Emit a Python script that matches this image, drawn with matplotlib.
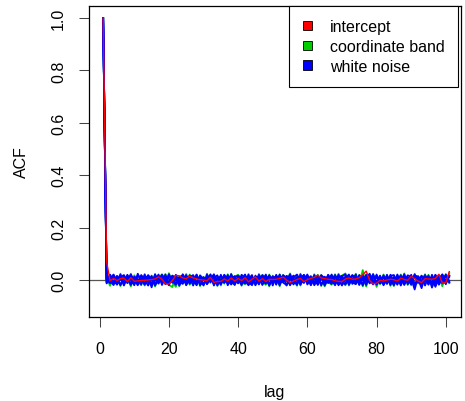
import matplotlib
matplotlib.use("Agg")
import matplotlib.pyplot as plt
from matplotlib.patches import Patch

plt.rcParams['font.family'] = ['Liberation Sans', 'DejaVu Sans']

lags = list(range(1, 102))

intercept = [1.0, 0.07,
    -0.003, 0.006, -0.002, 0.005, 0.007, -0.006, 0.009, -0.005, -0.003, -0.002,
    -0.001, 0.000, 0.002, 0.004, 0.012, 0.003, -0.015, -0.015, -0.002, 0.018,
    0.016, 0.008, 0.005, 0.015, 0.008, 0.004, 0.001, 0.000, -0.003, 0.010,
    -0.009, -0.006, -0.005, 0.004, -0.003, 0.008, -0.004, 0.006, -0.002, 0.009,
    -0.007, 0.003, 0.012, -0.004, 0.005, -0.006, 0.003, 0.002, 0.003, 0.006,
    0.011, 0.000, -0.010, -0.004, 0.002, 0.006, -0.006, 0.001, 0.006, 0.010,
    0.019, 0.008, 0.005, 0.003, 0.002, -0.003, -0.005, -0.006, 0.004, 0.008,
    0.003, 0.004, 0.009, 0.020, 0.034, -0.002, -0.015, -0.012, -0.001, -0.004,
    0.000, 0.003, 0.001, -0.004, 0.007, 0.002, -0.001, 0.014, 0.005, -0.004,
    -0.010, 0.005, 0.004, 0.003, 0.006, 0.022, -0.012, -0.010, 0.032]

noise_1 = [1.0,
    0.004, -0.012, 0.018, -0.006, 0.021, -0.015, 0.009, -0.019, 0.013, 0.002,
    -0.017, 0.020, -0.008, 0.015, -0.021, 0.006, 0.017, -0.011, 0.022, -0.004,
    -0.018, 0.011, -0.009, 0.019, -0.014, 0.003, 0.016, -0.020, 0.008, -0.002,
    0.021, -0.013, 0.010, -0.017, 0.014, -0.005, 0.019, -0.010, 0.005, -0.019,
    0.017, -0.007, 0.012, -0.016, 0.020, -0.001, -0.014, 0.018, -0.009, 0.007,
    -0.020, 0.015, -0.003, 0.022, -0.012, 0.009, -0.018, 0.013, 0.001, -0.015,
    0.019, -0.008, 0.016, -0.021, 0.004, 0.014, -0.011, 0.020, -0.006, -0.017,
    0.012, -0.002, 0.021, -0.014, 0.008, -0.019, 0.017, -0.005, 0.011, -0.013,
    0.018, -0.010, 0.003, -0.020, 0.015, -0.007, 0.022, -0.016, 0.006, -0.036,
    0.013, -0.004, 0.019, -0.012, 0.010, -0.018, 0.016, -0.001, 0.020, -0.009]

noise_2 = [1.0,
    -0.006, 0.017, -0.014, 0.008, -0.020, 0.013, -0.003, 0.021, -0.010, 0.016,
    0.005, -0.018, 0.011, -0.028, 0.019, -0.007, 0.002, 0.020, -0.015, 0.009,
    0.014, -0.021, 0.006, -0.012, 0.018, -0.004, -0.016, 0.012, -0.019, 0.021,
    -0.008, 0.015, -0.020, 0.003, -0.011, 0.019, -0.014, 0.010, 0.017, -0.006,
    -0.013, 0.020, -0.017, 0.007, -0.003, 0.016, 0.009, -0.021, 0.014, -0.010,
    0.018, -0.005, 0.011, -0.016, 0.002, -0.019, 0.021, -0.008, 0.013, 0.006,
    -0.012, 0.017, -0.020, 0.010, -0.004, -0.015, 0.019, -0.009, 0.014, 0.022,
    -0.018, 0.005, -0.011, 0.016, -0.021, 0.012, -0.003, 0.020, -0.014, 0.008,
    -0.007, 0.015, -0.019, 0.011, -0.002, 0.018, -0.013, 0.004, -0.017, 0.021,
    -0.010, 0.014, -0.006, 0.017, -0.029, 0.009, -0.015, 0.019, -0.004, 0.012]

noise_3 = [1.0,
    0.010, -0.003, -0.019, 0.016, 0.002, -0.009, 0.020, -0.016, 0.005, -0.013,
    0.019, 0.000, -0.021, 0.010, 0.004, -0.014, 0.021, -0.006, -0.012, 0.017,
    0.007, -0.017, 0.022, -0.001, -0.010, 0.014, -0.020, 0.018, 0.003, -0.015,
    0.011, 0.006, -0.018, 0.020, -0.008, 0.013, -0.003, -0.019, 0.016, 0.009,
    -0.011, 0.004, 0.019, -0.020, 0.012, -0.007, 0.021, -0.013, -0.002, 0.017,
    -0.008, 0.010, -0.021, 0.015, 0.005, -0.012, 0.008, 0.019, -0.017, 0.003,
    0.014, -0.019, 0.007, 0.012, -0.008, 0.021, -0.004, -0.016, 0.010, 0.002,
    -0.013, 0.018, 0.009, -0.019, 0.013, 0.004, -0.010, 0.022, -0.018, 0.006,
    0.012, -0.015, 0.020, -0.005, 0.008, -0.021, 0.016, 0.001, -0.011, 0.014,
    0.007, -0.020, 0.011, 0.003, -0.014, 0.019, -0.007, 0.009, -0.016, 0.015]

noise_4 = [1.0,
    -0.010, 0.008, 0.013, -0.018, 0.011, 0.019, -0.005, 0.003, -0.020, 0.024,
    -0.009, 0.006, 0.016, -0.013, -0.002, 0.021, -0.019, 0.012, 0.005, -0.010,
    0.020, -0.006, -0.015, 0.013, 0.009, -0.021, 0.017, -0.003, 0.011, -0.016,
    0.004, 0.022, -0.012, -0.007, 0.018, -0.020, 0.006, 0.015, -0.010, 0.001,
    0.021, -0.016, -0.005, 0.013, 0.010, -0.019, 0.003, 0.017, -0.021, 0.020,
    -0.013, -0.001, 0.016, 0.008, -0.017, 0.012, -0.006, 0.003, 0.021, -0.020,
    0.005, 0.011, -0.014, -0.003, 0.018, -0.011, 0.013, 0.002, -0.021, 0.016,
    0.006, -0.009, -0.016, 0.019, -0.002, 0.010, 0.024, -0.012, -0.006, 0.017,
    -0.020, 0.003, 0.009, -0.014, 0.021, -0.011, -0.003, 0.018, 0.012, -0.019,
    0.004, -0.031, 0.015, 0.007, -0.012, 0.020, -0.017, 0.006, 0.013, -0.003]

noise_5 = [1.0,
    0.001, 0.020, -0.008, -0.015, 0.014, -0.021, 0.017, 0.006, -0.011, -0.004,
    0.012, -0.015, 0.019, 0.003, -0.018, 0.013, -0.010, 0.008, -0.020, 0.016,
    -0.003, 0.010, 0.019, -0.018, 0.002, -0.008, 0.021, -0.013, -0.017, 0.009,
    0.017, -0.021, 0.005, 0.014, -0.002, -0.011, 0.022, -0.017, 0.008, 0.012,
    -0.004, -0.020, 0.010, 0.003, -0.017, 0.019, -0.011, 0.006, 0.012, -0.018,
    0.021, -0.010, -0.019, 0.004, 0.017, -0.003, -0.014, 0.020, -0.009, 0.015,
    -0.020, 0.002, 0.013, -0.018, 0.020, -0.001, -0.020, 0.011, 0.016, -0.012,
    0.003, 0.019, -0.007, 0.004, -0.016, 0.021, -0.013, 0.008, 0.015, -0.004,
    -0.016, 0.020, -0.011, 0.002, -0.018, 0.013, 0.006, -0.009, 0.020, -0.014,
    -0.001, 0.016, -0.021, 0.012, 0.005, -0.026, 0.010, -0.013, 0.019, -0.007]

noise_6 = [1.0,
    -0.013, 0.005, 0.021, -0.003, -0.017, 0.010, -0.012, 0.018, 0.000, -0.020,
    0.015, 0.009, -0.006, -0.019, 0.022, -0.011, 0.004, -0.016, 0.014, 0.007,
    -0.012, -0.002, 0.016, -0.020, 0.011, 0.019, -0.009, 0.002, -0.018, 0.013,
    -0.005, 0.009, 0.018, -0.014, 0.020, 0.001, -0.017, 0.005, -0.013, 0.020,
    0.008, -0.010, -0.019, 0.017, -0.014, 0.011, 0.002, -0.018, 0.006, 0.015,
    -0.003, 0.019, 0.007, -0.020, 0.010, 0.021, -0.002, -0.011, 0.017, -0.006,
    0.009, -0.016, 0.019, 0.006, -0.012, 0.004, 0.017, -0.020, 0.001, 0.008,
    0.021, -0.015, 0.012, -0.010, 0.018, -0.006, 0.001, -0.017, 0.021, -0.011,
    0.009, -0.004, 0.016, 0.019, -0.009, 0.004, -0.019, 0.012, -0.007, 0.018,
    0.012, -0.011, 0.004, -0.018, 0.020, -0.009, 0.007, 0.021, -0.013, 0.017]

band_1 = [1.0,
    0.008, -0.022, 0.015, -0.010, 0.024, -0.019, 0.006, -0.024, 0.018, -0.004,
    -0.020, 0.023, -0.012, 0.017, -0.025, 0.010, 0.021, -0.015, 0.026, -0.008,
    -0.026, 0.014, -0.011, 0.023, -0.018, 0.005, 0.020, -0.023, 0.012, -0.006,
    0.022, -0.017, 0.013, -0.021, 0.018, -0.009, 0.024, -0.014, 0.007, -0.022,
    0.020, -0.010, 0.016, -0.019, 0.023, -0.005, -0.018, 0.021, -0.013, 0.011,
    -0.024, 0.019, -0.006, 0.025, -0.015, 0.012, -0.021, 0.017, 0.003, -0.019,
    0.022, -0.011, 0.019, -0.024, 0.008, 0.018, -0.014, 0.024, -0.009, -0.020,
    0.015, -0.004, 0.024, -0.017, 0.038, -0.025, 0.020, -0.008, 0.014, -0.016,
    0.021, -0.013, 0.006, -0.023, 0.018, -0.010, 0.025, -0.019, 0.009, -0.022,
    0.016, -0.007, 0.022, -0.015, 0.013, -0.021, 0.019, -0.024, 0.023, -0.012]

band_2 = [1.0,
    -0.009, 0.021, -0.018, 0.012, -0.023, 0.016, -0.005, 0.024, -0.013, 0.019,
    0.008, -0.021, 0.014, -0.019, 0.022, -0.010, 0.004, 0.023, -0.018, -0.027,
    0.017, -0.024, 0.009, -0.015, 0.021, -0.007, -0.019, 0.015, -0.022, 0.024,
    -0.011, 0.018, -0.023, 0.006, -0.014, 0.022, -0.017, 0.013, 0.020, -0.009,
    -0.016, 0.023, -0.020, 0.010, -0.006, 0.019, 0.012, -0.024, 0.017, -0.013,
    0.021, -0.008, 0.014, -0.019, 0.005, -0.022, 0.024, -0.011, 0.016, 0.009,
    -0.015, 0.020, -0.023, 0.013, -0.007, -0.018, 0.022, -0.012, 0.017, 0.025,
    -0.021, 0.008, -0.014, 0.019, -0.024, 0.015, -0.006, 0.023, -0.026, 0.011,
    -0.010, 0.018, -0.022, 0.014, -0.005, 0.021, -0.016, 0.007, -0.020, 0.024,
    -0.013, 0.017, -0.009, 0.020, -0.025, 0.012, -0.018, 0.022, -0.007, 0.026]

legend_labels = ["intercept", "coordinate band", "white noise"]
colors = ["#FF0000", "#00CD00", "#0000FF"]

xticks = [0, 20, 40, 60, 80, 100]
yticks = [0.0, 0.2, 0.4, 0.6, 0.8, 1.0]

fig = plt.figure(figsize=(4.65, 4.02), dpi=100)
ax = fig.add_axes([89/465, 1 - 317.7/402, (460.7 - 89)/465, (317.7 - 6.7)/402])

ax.axhline(0, color="#555555", lw=0.9, zorder=1)
for s in [band_1, band_2]:
    ax.plot(lags, s, color=colors[1], lw=1.3, zorder=2)
for s in [noise_1, noise_2, noise_3, noise_4, noise_5, noise_6]:
    ax.plot(lags, s, color=colors[2], lw=1.3, zorder=3)
ax.plot(lags, intercept, color=colors[0], lw=1.0, zorder=4)

ax.set_xlim(-3.09, 104.3)
ax.set_ylim(-0.140, 1.047)
ax.set_xticks(xticks)
ax.set_xticklabels([str(t) for t in xticks])
ax.set_yticks(yticks)
ax.set_yticklabels([f"{t:.1f}" for t in yticks], rotation=90, va="center")
ax.tick_params(axis="both", direction="out", length=7.5, width=0.75,
               labelsize=11.5, pad=9, color="#444444")
ax.tick_params(axis="x", pad=10)
for sp in ax.spines.values():
    sp.set_linewidth(0.9)
    sp.set_color("black")

ax.set_xlabel("lag", fontsize=11.5, labelpad=20)
ax.set_ylabel("ACF", fontsize=11.5, labelpad=16)

handles = [Patch(facecolor=c, edgecolor="black", linewidth=0.6) for c in colors]
leg = ax.legend(handles, legend_labels, loc="upper right",
                bbox_to_anchor=(1.0 - 2.5/371.7, 1.0), borderaxespad=0,
                fontsize=11.5, handlelength=0.55, handleheight=0.55,
                handletextpad=1.15, labelspacing=0.3, borderpad=0.85,
                fancybox=False, framealpha=1, edgecolor="black")
leg.get_frame().set_linewidth(0.8)

fig.savefig("out.png", dpi=100)
